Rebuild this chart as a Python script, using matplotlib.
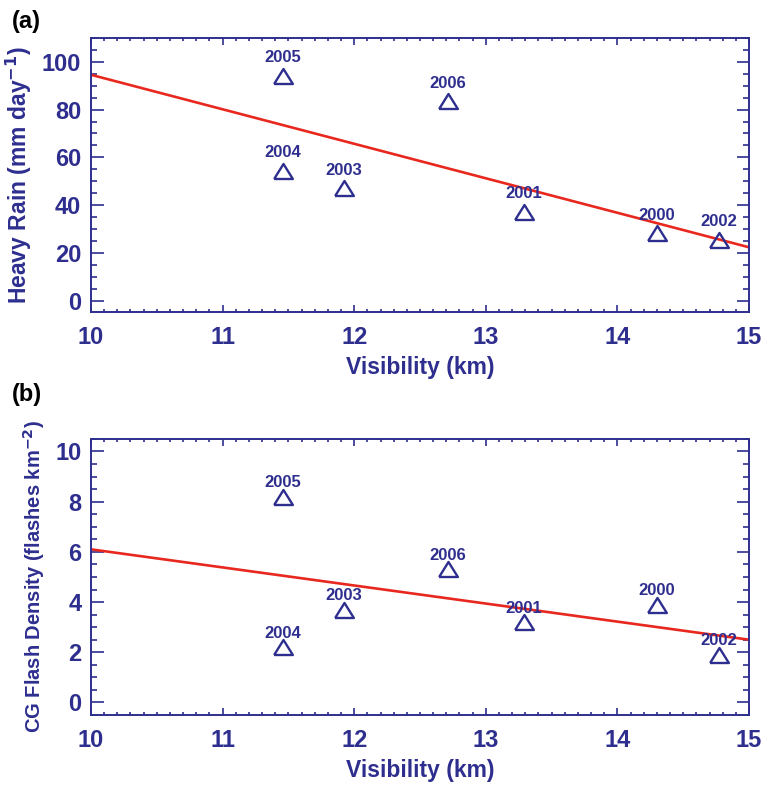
import matplotlib
matplotlib.use('Agg')
from matplotlib import pyplot
from matplotlib.ticker import MultipleLocator

years = ['2000', '2001', '2002', '2003', '2004', '2005', '2006']
visibility = [14.30, 13.29, 14.77, 11.92, 11.46, 11.46, 12.71]
heavy_rain = [28.4, 37.4, 25.7, 47.2, 54.5, 94.2, 83.5]
flash_density = [3.9, 3.2, 1.9, 3.7, 2.2, 8.2, 5.3]

# regression lines as drawn in the figure
fit_x = [10, 15]
fit_rain = [94.5, 22.5]
fit_flash = [6.1, 2.5]

NAVY = '#2E2E8F'
RED = '#E8281E'
TRI = [(-1, -0.8), (1, -0.8), (0, 0.8), (-1, -0.8)]

pyplot.rcParams['font.family'] = ['Liberation Sans', 'DejaVu Sans']
pyplot.rcParams['font.weight'] = 'bold'


def Panel(ax, y, fit_y, ylabel, ylabelsize, ylim, major, minor, offset):
    ax.plot(fit_x, fit_y, color=RED, lw=1.9, zorder=2)
    ax.plot(visibility, y, linestyle='none', marker=TRI, ms=13.5,
            mfc='none', mec=NAVY, mew=1.7, zorder=3)
    for xv, yv, name in zip(visibility, y, years):
        ax.annotate(name, (xv, yv), xytext=(0, offset), textcoords='offset points',
                    ha='center', va='center', fontsize=12, color=NAVY,
                    fontweight='bold', zorder=4)

    ax.set_xlim(10, 15)
    ax.set_ylim(*ylim)
    ax.xaxis.set_major_locator(MultipleLocator(1))
    ax.xaxis.set_minor_locator(MultipleLocator(0.1))
    ax.yaxis.set_major_locator(MultipleLocator(major))
    ax.yaxis.set_minor_locator(MultipleLocator(minor))
    ax.tick_params(which='both', direction='in', top=True, right=True,
                   colors=NAVY, labelcolor=NAVY, labelsize=17, width=1.2)
    ax.tick_params(axis='y', which='major', length=9, pad=7)
    ax.tick_params(axis='y', which='minor', length=4.5)
    ax.tick_params(axis='x', which='major', length=5, pad=10)
    ax.tick_params(axis='x', which='minor', length=2.5)
    for s in ax.spines.values():
        s.set_color(NAVY)
        s.set_linewidth(1.4)
    ax.set_xlabel('Visibility (km)', fontsize=16.5, color=NAVY, fontweight='bold', labelpad=5)
    ax.set_ylabel(ylabel, fontsize=ylabelsize, color=NAVY, fontweight='bold', labelpad=6)


fig = pyplot.figure(figsize=(7.66, 7.91), dpi=100)
ax1 = fig.add_axes([0.1188, 0.6056, 0.859, 0.3468])
ax2 = fig.add_axes([0.1188, 0.0961, 0.859, 0.349])

Panel(ax1, heavy_rain, fit_rain, 'Heavy Rain (mm day$^{\\mathbf{-1}}$)', 16.5,
      (-4.5, 110), 20, 5, 13)
Panel(ax2, flash_density, fit_flash, 'CG Flash Density (flashes km$^{\\mathbf{-2}}$)', 14.5,
      (-0.5, 10.5), 2, 0.5, 10)

fig.text(12 / 766, 1 - 10 / 791, '(a)', fontsize=17, fontweight='bold', va='top', ha='left')
fig.text(12 / 766, 1 - 383 / 791, '(b)', fontsize=17, fontweight='bold', va='top', ha='left')

fig.savefig('out.png', dpi=100)
